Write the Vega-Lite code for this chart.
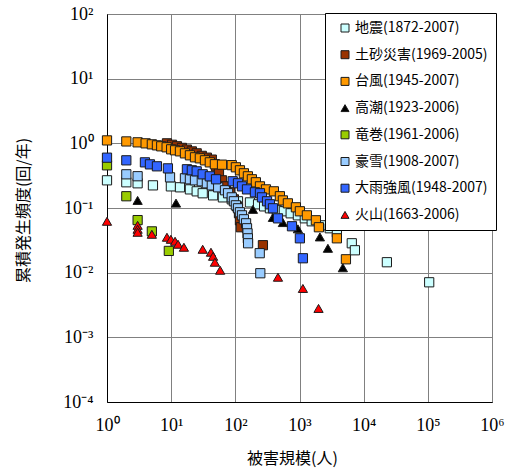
{
  "$schema": "https://vega.github.io/schema/vega-lite/v6.json",
  "width": 385,
  "height": 388,
  "autosize": {"type": "none"},
  "padding": {"left": 107, "top": 14, "right": 18, "bottom": 70},
  "background": "white",
  "config": {
    "view": {"stroke": "black", "strokeWidth": 1},
    "legend": {
      "orient": "none", "legendX": 218, "legendY": -1,
      "fillColor": "white", "strokeColor": "black", "padding": 8,
      "labelFont": "Noto Sans CJK JP", "labelFontSize": 14, "labelColor": "black",
      "rowPadding": 12.7, "symbolSize": 64, "symbolStrokeWidth": 1,
      "symbolStrokeColor": "#1a1a1a", "symbolOffset": 5, "labelOffset": 3
    }
  },
  "data": {"values": [
    {"s":"地震(1872-2007)","x":1,"y":0.268},{"s":"地震(1872-2007)","x":2,"y":0.25},{"s":"地震(1872-2007)","x":3,"y":0.241},{"s":"地震(1872-2007)","x":5.2,"y":0.224},{"s":"地震(1872-2007)","x":9.9,"y":0.216},{"s":"地震(1872-2007)","x":13.7,"y":0.209},{"s":"地震(1872-2007)","x":19.6,"y":0.194},{"s":"地震(1872-2007)","x":25,"y":0.181},{"s":"地震(1872-2007)","x":31,"y":0.169},{"s":"地震(1872-2007)","x":45,"y":0.157},{"s":"地震(1872-2007)","x":64,"y":0.146},{"s":"地震(1872-2007)","x":88,"y":0.136},{"s":"地震(1872-2007)","x":110,"y":0.127},{"s":"地震(1872-2007)","x":169,"y":0.122},{"s":"地震(1872-2007)","x":226,"y":0.114},{"s":"地震(1872-2007)","x":281,"y":0.106},{"s":"地震(1872-2007)","x":346,"y":0.099},{"s":"地震(1872-2007)","x":443,"y":0.092},{"s":"地震(1872-2007)","x":570,"y":0.089},{"s":"地震(1872-2007)","x":729,"y":0.0828},{"s":"地震(1872-2007)","x":944,"y":0.077},{"s":"地震(1872-2007)","x":1210,"y":0.0693},{"s":"地震(1872-2007)","x":1550,"y":0.0623},{"s":"地震(1872-2007)","x":2230,"y":0.054},{"s":"地震(1872-2007)","x":2960,"y":0.0486},{"s":"地震(1872-2007)","x":3825,"y":0.0421},{"s":"地震(1872-2007)","x":6530,"y":0.0285},{"s":"地震(1872-2007)","x":7300,"y":0.0222},{"s":"地震(1872-2007)","x":23000,"y":0.0145},{"s":"地震(1872-2007)","x":105000,"y":0.0071},
    {"s":"土砂災害(1969-2005)","x":8.6,"y":1.0},{"s":"土砂災害(1969-2005)","x":10.3,"y":0.95},{"s":"土砂災害(1969-2005)","x":12.3,"y":0.9},{"s":"土砂災害(1969-2005)","x":14.7,"y":0.85},{"s":"土砂災害(1969-2005)","x":17.6,"y":0.8},{"s":"土砂災害(1969-2005)","x":21,"y":0.75},{"s":"土砂災害(1969-2005)","x":25,"y":0.7},{"s":"土砂災害(1969-2005)","x":30,"y":0.64},{"s":"土砂災害(1969-2005)","x":36,"y":0.6},{"s":"土砂災害(1969-2005)","x":43,"y":0.56},{"s":"土砂災害(1969-2005)","x":50,"y":0.441},{"s":"土砂災害(1969-2005)","x":55.6,"y":0.344},{"s":"土砂災害(1969-2005)","x":62,"y":0.268},{"s":"土砂災害(1969-2005)","x":71,"y":0.216},{"s":"土砂災害(1969-2005)","x":82,"y":0.175},{"s":"土砂災害(1969-2005)","x":95,"y":0.136},{"s":"土砂災害(1969-2005)","x":106,"y":0.106},{"s":"土砂災害(1969-2005)","x":114,"y":0.083},{"s":"土砂災害(1969-2005)","x":118,"y":0.0646},{"s":"土砂災害(1969-2005)","x":122,"y":0.0504},{"s":"土砂災害(1969-2005)","x":269,"y":0.0266},
    {"s":"台風(1945-2007)","x":1,"y":1.11},{"s":"台風(1945-2007)","x":2,"y":1.07},{"s":"台風(1945-2007)","x":3,"y":1.036},{"s":"台風(1945-2007)","x":4,"y":1.0},{"s":"台風(1945-2007)","x":5,"y":0.965},{"s":"台風(1945-2007)","x":6,"y":0.931},{"s":"台風(1945-2007)","x":7,"y":0.899},{"s":"台風(1945-2007)","x":8.5,"y":0.868},{"s":"台風(1945-2007)","x":10,"y":0.808},{"s":"台風(1945-2007)","x":11.5,"y":0.78},{"s":"台風(1945-2007)","x":13.7,"y":0.752},{"s":"台風(1945-2007)","x":16.4,"y":0.7},{"s":"台風(1945-2007)","x":19.6,"y":0.653},{"s":"台風(1945-2007)","x":23.5,"y":0.608},{"s":"台風(1945-2007)","x":28,"y":0.586},{"s":"台風(1945-2007)","x":33.6,"y":0.546},{"s":"台風(1945-2007)","x":40,"y":0.508},{"s":"台風(1945-2007)","x":48,"y":0.475},{"s":"台風(1945-2007)","x":62,"y":0.468},{"s":"台風(1945-2007)","x":88,"y":0.46},{"s":"台風(1945-2007)","x":102,"y":0.426},{"s":"台風(1945-2007)","x":118,"y":0.383},{"s":"台風(1945-2007)","x":136,"y":0.344},{"s":"台風(1945-2007)","x":157,"y":0.309},{"s":"台風(1945-2007)","x":181,"y":0.278},{"s":"台風(1945-2007)","x":209,"y":0.25},{"s":"台風(1945-2007)","x":242,"y":0.216},{"s":"台風(1945-2007)","x":300,"y":0.194},{"s":"台風(1945-2007)","x":399,"y":0.181},{"s":"台風(1945-2007)","x":495,"y":0.152},{"s":"台風(1945-2007)","x":551,"y":0.131},{"s":"台風(1945-2007)","x":659,"y":0.118},{"s":"台風(1945-2007)","x":879,"y":0.1025},{"s":"台風(1945-2007)","x":1014,"y":0.089},{"s":"台風(1945-2007)","x":1303,"y":0.077},{"s":"台風(1945-2007)","x":1800,"y":0.0646},{"s":"台風(1945-2007)","x":2005,"y":0.0504},{"s":"台風(1945-2007)","x":3825,"y":0.034},{"s":"台風(1945-2007)","x":5290,"y":0.0161},
    {"s":"高潮(1923-2006)","x":3,"y":0.131},{"s":"高潮(1923-2006)","x":11.9,"y":0.119},{"s":"高潮(1923-2006)","x":188,"y":0.0952},{"s":"高潮(1923-2006)","x":385,"y":0.0714},{"s":"高潮(1923-2006)","x":551,"y":0.0595},{"s":"高潮(1923-2006)","x":944,"y":0.0476},{"s":"高潮(1923-2006)","x":2080,"y":0.0357},{"s":"高潮(1923-2006)","x":2770,"y":0.0238},{"s":"高潮(1923-2006)","x":4740,"y":0.0119},
    {"s":"竜巻(1961-2006)","x":1,"y":0.457},{"s":"竜巻(1961-2006)","x":2,"y":0.152},{"s":"竜巻(1961-2006)","x":3,"y":0.065},{"s":"竜巻(1961-2006)","x":5,"y":0.0435},{"s":"竜巻(1961-2006)","x":9.2,"y":0.0217},
    {"s":"豪雪(1908-2007)","x":2,"y":0.332},{"s":"豪雪(1908-2007)","x":3,"y":0.31},{"s":"豪雪(1908-2007)","x":9.6,"y":0.298},{"s":"豪雪(1908-2007)","x":16.4,"y":0.288},{"s":"豪雪(1908-2007)","x":19.6,"y":0.278},{"s":"豪雪(1908-2007)","x":23.5,"y":0.268},{"s":"豪雪(1908-2007)","x":30,"y":0.259},{"s":"豪雪(1908-2007)","x":36,"y":0.241},{"s":"豪雪(1908-2007)","x":43,"y":0.224},{"s":"豪雪(1908-2007)","x":54,"y":0.209},{"s":"豪雪(1908-2007)","x":69,"y":0.188},{"s":"豪雪(1908-2007)","x":77,"y":0.169},{"s":"豪雪(1908-2007)","x":88,"y":0.146},{"s":"豪雪(1908-2007)","x":95,"y":0.127},{"s":"豪雪(1908-2007)","x":102,"y":0.11},{"s":"豪雪(1908-2007)","x":110,"y":0.099},{"s":"豪雪(1908-2007)","x":118,"y":0.0859},{"s":"豪雪(1908-2007)","x":127,"y":0.077},{"s":"豪雪(1908-2007)","x":136,"y":0.0669},{"s":"豪雪(1908-2007)","x":147,"y":0.058},{"s":"豪雪(1908-2007)","x":152,"y":0.0486},{"s":"豪雪(1908-2007)","x":155,"y":0.0406},{"s":"豪雪(1908-2007)","x":157,"y":0.034},{"s":"豪雪(1908-2007)","x":158,"y":0.0285},{"s":"豪雪(1908-2007)","x":240,"y":0.02},{"s":"豪雪(1908-2007)","x":245,"y":0.0098},
    {"s":"大雨強風(1948-2007)","x":1,"y":0.6},{"s":"大雨強風(1948-2007)","x":2,"y":0.546},{"s":"大雨強風(1948-2007)","x":3.9,"y":0.508},{"s":"大雨強風(1948-2007)","x":4.67,"y":0.473},{"s":"大雨強風(1948-2007)","x":6,"y":0.441},{"s":"大雨強風(1948-2007)","x":8.9,"y":0.41},{"s":"大雨強風(1948-2007)","x":17.6,"y":0.397},{"s":"大雨強風(1948-2007)","x":21,"y":0.383},{"s":"大雨強風(1948-2007)","x":25,"y":0.369},{"s":"大雨強風(1948-2007)","x":31,"y":0.332},{"s":"大雨強風(1948-2007)","x":40,"y":0.309},{"s":"大雨強風(1948-2007)","x":50,"y":0.278},{"s":"大雨強風(1948-2007)","x":91,"y":0.259},{"s":"大雨強風(1948-2007)","x":110,"y":0.241},{"s":"大雨強風(1948-2007)","x":127,"y":0.216},{"s":"大雨強風(1948-2007)","x":152,"y":0.194},{"s":"大雨強風(1948-2007)","x":202,"y":0.175},{"s":"大雨強風(1948-2007)","x":242,"y":0.169},{"s":"大雨強風(1948-2007)","x":260,"y":0.146},{"s":"大雨強風(1948-2007)","x":312,"y":0.127},{"s":"大雨強風(1948-2007)","x":346,"y":0.114},{"s":"大雨強風(1948-2007)","x":386,"y":0.099},{"s":"大雨強風(1948-2007)","x":462,"y":0.0692},{"s":"大雨強風(1948-2007)","x":763,"y":0.0522},{"s":"大雨強風(1948-2007)","x":1014,"y":0.034},{"s":"大雨強風(1948-2007)","x":1130,"y":0.0167},
    {"s":"火山(1663-2006)","x":1,"y":0.0623},{"s":"火山(1663-2006)","x":3,"y":0.054},{"s":"火山(1663-2006)","x":3,"y":0.0469},{"s":"火山(1663-2006)","x":3,"y":0.0421},{"s":"火山(1663-2006)","x":5,"y":0.0392},{"s":"火山(1663-2006)","x":8.6,"y":0.0353},{"s":"火山(1663-2006)","x":9.9,"y":0.0328},{"s":"火山(1663-2006)","x":11.5,"y":0.0306},{"s":"火山(1663-2006)","x":12.8,"y":0.0275},{"s":"火山(1663-2006)","x":15.8,"y":0.0247},{"s":"火山(1663-2006)","x":31,"y":0.023},{"s":"火山(1663-2006)","x":41.7,"y":0.0207},{"s":"火山(1663-2006)","x":45,"y":0.0179},{"s":"火山(1663-2006)","x":48,"y":0.0145},{"s":"火山(1663-2006)","x":58,"y":0.0109},{"s":"火山(1663-2006)","x":462,"y":0.0085},{"s":"火山(1663-2006)","x":1130,"y":0.0057},{"s":"火山(1663-2006)","x":1980,"y":0.0028}
  ]},
  "mark": {"type": "point", "filled": true, "size": 85, "stroke": "#1a1a1a", "strokeWidth": 1, "opacity": 1},
  "encoding": {
    "x": {
      "field": "x", "type": "quantitative",
      "scale": {"type": "log", "domain": [1, 1000000], "nice": false},
      "axis": {
        "title": "被害規模(人)", "titleFont": "Noto Sans CJK JP", "titleFontSize": 16, "titleFontWeight": "normal", "titleColor": "black",
        "titleX": 185, "titleY": 56, "titleBaseline": "middle", "titleAlign": "center",
        "values": [1, 10, 100, 1000, 10000, 100000, 1000000],
        "labelExpr": "datum.value < 5 ? '10⁰' : datum.value < 50 ? '10¹' : datum.value < 500 ? '10²' : datum.value < 5000 ? '10³' : datum.value < 50000 ? '10⁴' : datum.value < 500000 ? '10⁵' : '10⁶'",
        "labelFont": "Liberation Serif", "labelFontSize": 18, "labelColor": "black", "labelPadding": 14,
        "labelFlush": false, "labelOverlap": false,
        "ticks": false, "grid": true, "gridColor": "#808080", "gridWidth": 1,
        "domainColor": "black"
      }
    },
    "y": {
      "field": "y", "type": "quantitative",
      "scale": {"type": "log", "domain": [0.0001, 100], "nice": false},
      "axis": {
        "title": "累積発生頻度(回/年)", "titleFont": "Noto Sans CJK JP", "titleFontSize": 16, "titleFontWeight": "normal", "titleColor": "black",
        "titleX": -84, "titleY": 196, "titleBaseline": "middle", "titleAlign": "center", "titleAngle": -90,
        "values": [0.0001, 0.001, 0.01, 0.1, 1, 10, 100],
        "labelExpr": "datum.value > 50 ? '10²' : datum.value > 5 ? '10¹' : datum.value > 0.5 ? '10⁰' : datum.value > 0.05 ? '10⁻¹' : datum.value > 0.005 ? '10⁻²' : datum.value > 0.0005 ? '10⁻³' : '10⁻⁴'",
        "labelFont": "Liberation Serif", "labelFontSize": 18, "labelColor": "black", "labelPadding": 14,
        "labelFlush": false, "labelOverlap": false,
        "ticks": false, "grid": true, "gridColor": "#808080", "gridWidth": 1,
        "domainColor": "black"
      }
    },
    "color": {
      "field": "s", "type": "nominal",
      "scale": {
        "domain": ["地震(1872-2007)", "土砂災害(1969-2005)", "台風(1945-2007)", "高潮(1923-2006)", "竜巻(1961-2006)", "豪雪(1908-2007)", "大雨強風(1948-2007)", "火山(1663-2006)"],
        "range": ["#CCFFFF", "#993300", "#FF9900", "#000000", "#99CC00", "#99CCFF", "#3366FF", "#FF0000"]
      },
      "legend": {"title": null}
    },
    "shape": {
      "field": "s", "type": "nominal",
      "scale": {
        "domain": ["地震(1872-2007)", "土砂災害(1969-2005)", "台風(1945-2007)", "高潮(1923-2006)", "竜巻(1961-2006)", "豪雪(1908-2007)", "大雨強風(1948-2007)", "火山(1663-2006)"],
        "range": ["square", "square", "square", "triangle-up", "square", "square", "square", "triangle-up"]
      },
      "legend": {"title": null}
    }
  }
}
